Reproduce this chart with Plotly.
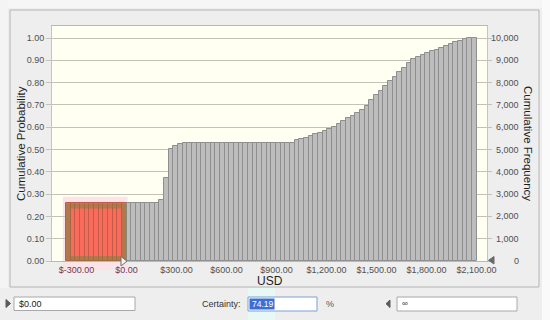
import plotly.graph_objects as go

# ---------------- data ----------------
bin_start = -364          # USD, lower edge of first bin
bin_width = 28            # USD per bin
trials = 10000
certainty_lower = 0.0     # certainty range: $0.00 .. infinity
certainty_pct = "74.19"

cum_prob = [
    0.258, 0.258, 0.258, 0.258, 0.258, 0.258, 0.258, 0.258, 0.258, 0.258, 0.258, 0.258, 0.258,
    0.258, 0.258, 0.258, 0.258, 0.258, 0.258, 0.258,
    0.272, 0.370, 0.503, 0.517, 0.526,
    0.531, 0.531, 0.531, 0.531, 0.531, 0.531, 0.531, 0.531, 0.531, 0.531, 0.531, 0.531,
    0.531, 0.531, 0.531, 0.531, 0.531, 0.531, 0.531, 0.531, 0.531, 0.531, 0.531, 0.531,
    0.541, 0.547, 0.553, 0.561, 0.568, 0.576, 0.583, 0.591, 0.601, 0.616, 0.628, 0.640,
    0.652, 0.665, 0.679, 0.697,
    0.722, 0.743, 0.764, 0.785, 0.806, 0.825, 0.846, 0.866, 0.888, 0.904, 0.917, 0.926,
    0.933, 0.940, 0.948, 0.955, 0.963, 0.972, 0.981, 0.988, 0.994, 0.999, 1.000,
]

x_tick_vals = [-300, 0, 300, 600, 900, 1200, 1500, 1800, 2100]
x_tick_text = ["$-300.00", "$0.00", "$300.00", "$600.00", "$900.00",
               "$1,200.00", "$1,500.00", "$1,800.00", "$2,100.00"]
y_tick_vals = [0.0, 0.1, 0.2, 0.3, 0.4, 0.5, 0.6, 0.7, 0.8, 0.9, 1.0]
freq_tick_vals = [0, 1000, 2000, 3000, 4000, 5000, 6000, 7000, 8000, 9000, 10000]

# ---------------- geometry helpers (pixel -> paper) ----------------
W, H = 550, 320
L, R, T, B = 52, 487, 26, 261
PW, PH = R - L, B - T
X_MIN = -447
X_MAX = X_MIN + PW * 6
Y_MAX = PH / 223.0

def px(x):
    return (x - L) / PW

def py(y):
    return (B - y) / PH

centers = [bin_start + bin_width * (i + 0.5) for i in range(len(cum_prob))]
in_tail = [c < certainty_lower for c in centers]
fill = ["#F96C5B" if t else "#BDBDBD" for t in in_tail]
edge = ["#C65A49" if t else "#8E8E8E" for t in in_tail]

FONT = "Liberation Sans, Arial, sans-serif"
GRID = "#C2C2B6"

fig = go.Figure()
fig.add_trace(go.Bar(
    x=centers, y=cum_prob, width=bin_width,
    marker=dict(color=fill, line=dict(color=edge, width=1)),
    hoverinfo="skip", showlegend=False,
))
fig.add_trace(go.Scatter(
    x=[centers[0]], y=[0], yaxis="y2", mode="markers",
    marker=dict(opacity=0, size=1), hoverinfo="skip", showlegend=False,
))

tick_text_colored = []
for v, t in zip(x_tick_vals, x_tick_text):
    if v <= certainty_lower:
        tick_text_colored.append('<span style="color:#7A3350">' + t + '</span>')
    else:
        tick_text_colored.append(t)

tail_hi = max(p for p, t in zip(cum_prob, in_tail) if t)
tail_x0 = bin_start
tail_x1 = bin_start + bin_width * sum(in_tail)

shapes = [
    # light strips outside the panel window
    dict(type="rect", xref="paper", yref="paper", x0=px(0), x1=px(550), y0=py(8), y1=py(0),
         fillcolor="#F6F6F6", line=dict(width=0), layer="below"),
    dict(type="rect", xref="paper", yref="paper", x0=px(0), x1=px(8), y0=py(288), y1=py(0),
         fillcolor="#F4F4F4", line=dict(width=0), layer="below"),
    dict(type="rect", xref="paper", yref="paper", x0=px(542), x1=px(550), y0=py(320), y1=py(0),
         fillcolor="#FAFAFA", line=dict(width=0), layer="below"),
    # panel border
    dict(type="rect", xref="paper", yref="paper", x0=px(10), x1=px(539), y0=py(287), y1=py(10),
         fillcolor="rgba(0,0,0,0)", line=dict(color="#B4B4B4", width=1), layer="below"),
    # pink selection highlight (outside-plot strip)
    dict(type="rect", xref="paper", yref="paper", x0=px(63), x1=px(128), y0=py(270), y1=py(261),
         fillcolor="#FCE3E8", line=dict(width=0), layer="below"),
    # pink selection highlight inside plot
    dict(type="rect", xref="x", yref="y", x0=tail_x0 - 18, x1=tail_x1 + 6, y0=0, y1=tail_hi + 0.03,
         fillcolor="#FCE3E8", line=dict(width=0), layer="below"),
    # brown band on red block
    dict(type="rect", xref="x", yref="y", x0=tail_x0 + 15, x1=tail_x1 - 15,
         y0=2.5 / 223, y1=tail_hi - 2.5 / 223,
         line=dict(color="rgba(110,130,60,0.5)", width=5), layer="above"),
    # slider markers
    dict(type="path", xref="paper", yref="paper",
         path=f"M {px(121)} {py(256.5)} L {px(121)} {py(266)} L {px(127)} {py(261.2)} Z",
         fillcolor="#F4F4F4", line=dict(color="#6E6E6E", width=1), layer="above"),
    dict(type="path", xref="paper", yref="paper",
         path=f"M {px(494)} {py(256.5)} L {px(494)} {py(264)} L {px(488.5)} {py(260.3)} Z",
         fillcolor="#6A6A6A", line=dict(color="#6A6A6A", width=1), layer="above"),
    # bottom row controls
    dict(type="path", xref="paper", yref="paper",
         path=f"M {px(6)} {py(299.5)} L {px(6)} {py(307.5)} L {px(10.5)} {py(303.5)} Z",
         fillcolor="#5A5A5A", line=dict(color="#5A5A5A", width=1), layer="above"),
    dict(type="rect", xref="paper", yref="paper", x0=px(14), x1=px(135), y0=py(310.5), y1=py(297),
         fillcolor="#FFFFFF", line=dict(color="#A8A8A8", width=1), layer="above"),
    dict(type="rect", xref="paper", yref="paper", x0=px(248), x1=px(275), y0=py(320), y1=py(288),
         fillcolor="#E8F8F5", line=dict(width=0), layer="below"),
    dict(type="rect", xref="paper", yref="paper", x0=px(248), x1=px(317), y0=py(311), y1=py(297),
         fillcolor="#FFFFFF", line=dict(color="#7EA0D6", width=1), layer="above"),
    dict(type="rect", xref="paper", yref="paper", x0=px(249.5), x1=px(274.5), y0=py(309.5), y1=py(298.5),
         fillcolor="#3B6FD4", line=dict(width=0), layer="above"),
    dict(type="path", xref="paper", yref="paper",
         path=f"M {px(390)} {py(300)} L {px(390)} {py(307.5)} L {px(386)} {py(303.7)} Z",
         fillcolor="#5A5A5A", line=dict(color="#5A5A5A", width=1), layer="above"),
    dict(type="rect", xref="paper", yref="paper", x0=px(397), x1=px(517), y0=py(311), y1=py(297),
         fillcolor="#FFFFFF", line=dict(color="#A8A8A8", width=1), layer="above"),
]

annotations = [
    dict(text="Cumulative Probability", xref="paper", yref="paper", x=px(20.5), y=py(143.5),
         textangle=-90, showarrow=False, font=dict(family=FONT, size=11.5, color="#1E1E1E"),
         xanchor="center", yanchor="middle"),
    dict(text="Cumulative Frequency", xref="paper", yref="paper", x=px(528.5), y=py(143.5),
         textangle=90, showarrow=False, font=dict(family=FONT, size=11.5, color="#1E1E1E"),
         xanchor="center", yanchor="middle"),
    dict(text="USD", xref="paper", yref="paper", x=px(269.5), y=py(280.5),
         showarrow=False, font=dict(family=FONT, size=12, color="#1E1E1E"),
         xanchor="center", yanchor="middle"),
    dict(text="$0.00", xref="paper", yref="paper", x=px(17), y=py(303.8),
         showarrow=False, font=dict(family=FONT, size=9, color="#222222"),
         xanchor="left", yanchor="middle"),
    dict(text="Certainty:", xref="paper", yref="paper", x=px(243), y=py(303.8),
         showarrow=False, font=dict(family=FONT, size=9, color="#333333"),
         xanchor="right", yanchor="middle"),
    dict(text=certainty_pct, xref="paper", yref="paper", x=px(249.5), y=py(303.8),
         showarrow=False, font=dict(family=FONT, size=8.5, color="#FFFFFF"),
         xanchor="left", yanchor="middle"),
    dict(text="%", xref="paper", yref="paper", x=px(324), y=py(303.8),
         showarrow=False, font=dict(family=FONT, size=9, color="#555555"),
         xanchor="left", yanchor="middle"),
    dict(text="\u221e", xref="paper", yref="paper", x=px(399.5), y=py(303.8),
         showarrow=False, font=dict(family=FONT, size=8, color="#333333"),
         xanchor="left", yanchor="middle"),
]
for v in freq_tick_vals:
    annotations.append(dict(text=f"{v:,}", xref="paper", yref="y2", x=px(521), y=v,
                            showarrow=False, font=dict(family=FONT, size=9, color="#505050"),
                            xanchor="right", yanchor="middle"))

fig.update_layout(
    width=W, height=H,
    margin=dict(l=L, r=W - R, t=T, b=H - B, pad=0),
    paper_bgcolor="#EEEEEE",
    plot_bgcolor="#FFFFF2",
    font=dict(family=FONT, size=9, color="#505050"),
    bargap=0,
    xaxis=dict(range=[X_MIN, X_MAX], tickvals=x_tick_vals, ticktext=tick_text_colored,
               showgrid=False, zeroline=False, showline=True, linecolor="#B8B8B8", mirror=True,
               ticks="", tickfont=dict(family=FONT, size=9, color="#505050"), fixedrange=True,
               automargin=False),
    yaxis=dict(range=[0, Y_MAX], tickvals=y_tick_vals, tickformat=".2f",
               showgrid=True, gridcolor=GRID, gridwidth=1, zeroline=False,
               showline=True, linecolor="#C4C4C4", mirror=True,
               ticks="outside", ticklen=5, tickcolor=GRID,
               tickfont=dict(family=FONT, size=9, color="#505050"), fixedrange=True,
               automargin=False),
    yaxis2=dict(range=[0, Y_MAX * trials], overlaying="y", side="right",
                tickvals=freq_tick_vals, showticklabels=False, showgrid=False, zeroline=False,
                ticks="outside", ticklen=4, tickcolor=GRID, showline=False, fixedrange=True,
                automargin=False),
    shapes=shapes,
    annotations=annotations,
    showlegend=False,
)

fig.write_html(
    "out.html",
    config={"displayModeBar": False},
    post_script="document.body.style.margin='0';document.body.style.padding='0';",
)
